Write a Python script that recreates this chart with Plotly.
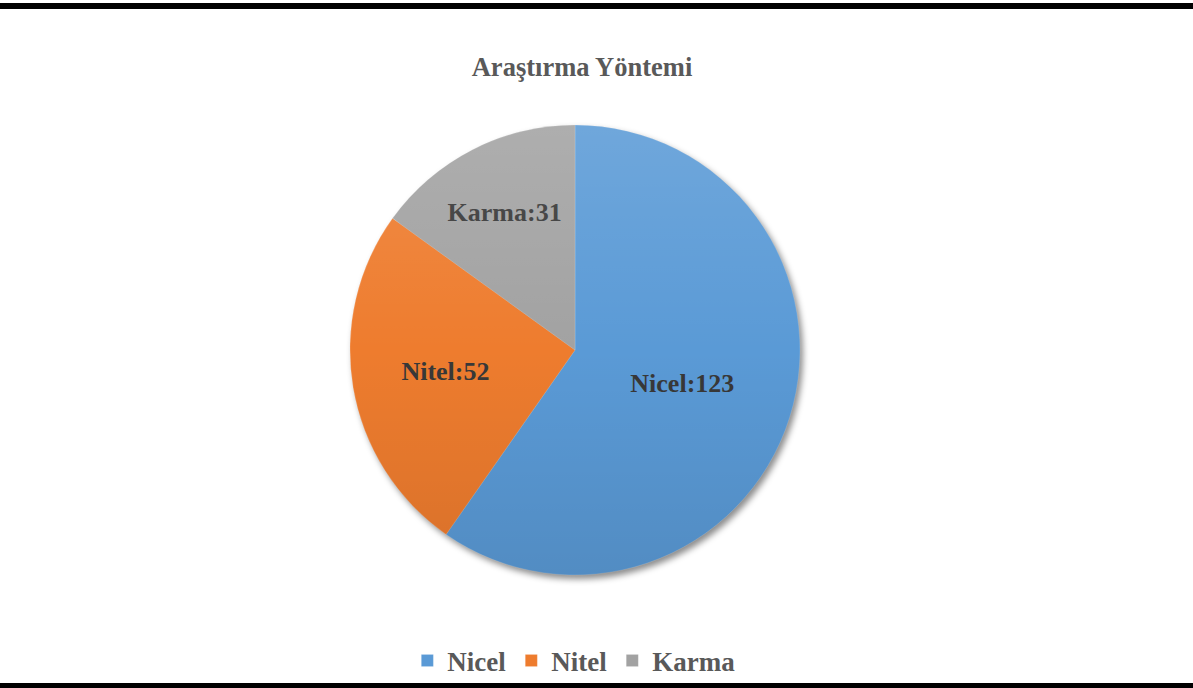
import base64
import plotly.graph_objects as go

# Research method counts
categories = ["Nicel", "Nitel", "Karma"]
counts = [123, 52, 31]
colors = ["#5a9ad6", "#ee7c2e", "#a2a2a2"]

W, H = 1193, 688

# Pie domain in pixels (left, right, top, bottom)
PX0, PX1, PY0, PY1 = 350, 800, 125, 575
domain_x = [PX0 / W, PX1 / W]
domain_y = [1 - PY1 / H, 1 - PY0 / H]


def svg_uri(svg):
    return "data:image/svg+xml;base64," + base64.b64encode(svg.encode()).decode()


# Soft drop shadow drawn under the pie
shadow_svg = (
    '<svg xmlns="http://www.w3.org/2000/svg" width="500" height="500" viewBox="0 0 500 500">'
    '<defs><filter id="b" x="-20%" y="-20%" width="140%" height="140%">'
    '<feGaussianBlur stdDeviation="3"/></filter></defs>'
    '<circle cx="253" cy="254" r="225" fill="rgba(0,0,0,0.45)" filter="url(#b)"/></svg>'
)

# Vertical light-to-dark sheen laid over the slices
sheen_svg = (
    '<svg xmlns="http://www.w3.org/2000/svg" width="450" height="450" viewBox="0 0 450 450">'
    '<defs><linearGradient id="g" x1="0" y1="0" x2="0" y2="1">'
    '<stop offset="0" stop-color="#ffffff" stop-opacity="0.13"/>'
    '<stop offset="0.5" stop-color="#ffffff" stop-opacity="0"/>'
    '<stop offset="0.5" stop-color="#000000" stop-opacity="0"/>'
    '<stop offset="1" stop-color="#000000" stop-opacity="0.09"/>'
    '</linearGradient></defs>'
    '<circle cx="225" cy="225" r="225" fill="url(#g)"/></svg>'
)

fig = go.Figure(
    go.Pie(
        labels=categories,
        values=counts,
        sort=False,
        direction="clockwise",
        rotation=0,
        marker=dict(colors=colors, line=dict(color="rgba(255,255,255,0.3)", width=0.5)),
        texttemplate="%{label}:%{value}",
        textposition="inside",
        insidetextorientation="horizontal",
        textfont=dict(family="Liberation Serif", size=26, color="#383838", weight="bold"),
        domain=dict(x=domain_x, y=domain_y),
        hoverinfo="label+value",
    )
)

fig.update_layout(
    width=W,
    height=H,
    margin=dict(l=0, r=0, t=0, b=0),
    paper_bgcolor="white",
    plot_bgcolor="white",
    title=dict(
        text="<b>Araştırma Yöntemi</b>",
        x=582 / W,
        xanchor="center",
        y=1 - 67 / H,
        yanchor="middle",
        font=dict(family="Liberation Serif", size=26.5, color="#595959"),
    ),
    legend=dict(
        orientation="h",
        x=0.481,
        xanchor="center",
        y=1 - 661 / H,
        yanchor="middle",
        bgcolor="rgba(0,0,0,0)",
        font=dict(family="Liberation Serif", size=27, color="#595959", weight="bold"),
        itemwidth=30,
    ),
    images=[
        dict(source=svg_uri(shadow_svg), xref="paper", yref="paper",
             x=(PX0 - 25) / W, y=1 - (PY0 - 25) / H,
             sizex=500 / W, sizey=500 / H, xanchor="left", yanchor="top",
             sizing="stretch", layer="below"),
        dict(source=svg_uri(sheen_svg), xref="paper", yref="paper",
             x=domain_x[0], y=domain_y[1],
             sizex=450 / W, sizey=450 / H, xanchor="left", yanchor="top",
             sizing="stretch", layer="above"),
    ],
    shapes=[
        dict(type="rect", xref="paper", yref="paper", x0=0, x1=1,
             y0=1 - 9 / H, y1=1 - 3 / H, fillcolor="black", line=dict(width=0)),
        dict(type="rect", xref="paper", yref="paper", x0=0, x1=1,
             y0=0, y1=1 - 683 / H, fillcolor="black", line=dict(width=0)),
    ],
)

fig.write_html("out.html")
